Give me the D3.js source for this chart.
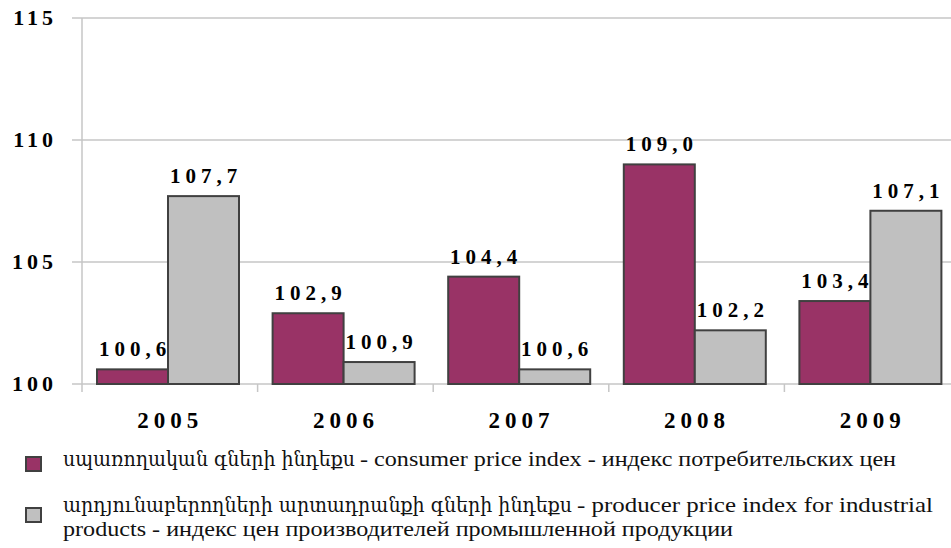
<!DOCTYPE html>
<html><head><meta charset="utf-8">
<script src="https://cdn.jsdelivr.net/npm/d3@7"></script>
<style>body{margin:0;background:#fff}svg{display:block}</style>
</head><body>
<script>
const years = ["2005","2006","2007","2008","2009"];
const cpi = [100.6, 102.9, 104.4, 109.0, 103.4];
const ppi = [107.7, 100.9, 100.6, 102.2, 107.1];
const yTicks = [100, 105, 110, 115];
const legendArm = ["սպառողական գների ինդեքս", "արդյունաբերողների արտադրանքի գների ինդեքս"];
const legendRest = ["- consumer price index - индекс потребительских цен",
                    "- producer price index for industrial"];
const legendLine3 = "products - индекс цен производителей промышленной продукции";
const colors = ["#993366", "#c0c0c0"];

const W = 951, H = 548;
const SERIF = '"Liberation Serif"';
const ARM = '"DejaVu Serif"';
const svg = d3.select("body").append("svg").attr("width", W).attr("height", H);
const x0 = d3.scaleBand().domain(years).range([82, 960]);
const y = d3.scaleLinear().domain([100, 115]).range([384, 18]);
const grpW = 142;
const x1 = d3.scaleBand().domain([0,1]).range([0, grpW]);
const off = 15;
const grid = "#c6c6c6";

svg.append("g").selectAll("line").data(yTicks).join("line")
  .attr("x1", 72).attr("x2", 960)
  .attr("y1", d => y(d)).attr("y2", d => y(d))
  .attr("stroke", grid).attr("stroke-width", 1.5);
svg.append("line").attr("x1", 82).attr("x2", 82).attr("y1", y(115)).attr("y2", 392)
  .attr("stroke", grid).attr("stroke-width", 1.5);
svg.append("g").selectAll("line").data(years.slice(1)).join("line")
  .attr("x1", d => x0(d)).attr("x2", d => x0(d)).attr("y1", 384).attr("y2", 392)
  .attr("stroke", grid).attr("stroke-width", 1.5);

svg.append("g").selectAll("text").data(yTicks).join("text")
  .style("font-family", SERIF).attr("font-weight", "bold")
  .attr("x", 57).attr("y", d => y(d) + 7)
  .attr("text-anchor", "end")
  .attr("font-size", 22)
  .attr("letter-spacing", 4)
  .text(d => d);

svg.append("g").selectAll("text").data(years).join("text")
  .style("font-family", SERIF).attr("font-weight", "bold")
  .attr("x", d => x0(d) + x0.bandwidth()/2 + 0.5).attr("y", 428)
  .attr("text-anchor", "middle")
  .attr("font-size", 23)
  .attr("letter-spacing", 5)
  .text(d => d);

const data = [];
years.forEach((yr, i) => {
  data.push({yr, s:0, v:cpi[i]});
  data.push({yr, s:1, v:ppi[i]});
});
svg.append("g").selectAll("rect").data(data).join("rect")
  .attr("x", d => x0(d.yr) + off + x1(d.s))
  .attr("y", d => y(d.v))
  .attr("width", x1.bandwidth())
  .attr("height", d => y(100) - y(d.v))
  .attr("fill", d => colors[d.s])
  .attr("stroke", "#404040").attr("stroke-width", 2);

svg.append("g").selectAll("text").data(data).join("text")
  .style("font-family", SERIF).attr("font-weight", "bold")
  .attr("x", d => x0(d.yr) + off + x1(d.s) + x1.bandwidth()/2 + 2.5)
  .attr("y", d => y(d.v) - 13)
  .attr("text-anchor", "middle")
  .attr("font-size", 21)
  .attr("letter-spacing", 5)
  .text(d => d3.format(".1f")(d.v).replace(".", ","));

const lg = svg.append("g");
const sqY = [457, 508];
const baseY = [466, 512];
const armEnd = [355, 572];
const restStart = [360, 577];
const restEnd = [896, 933];
colors.forEach((c, i) => {
  lg.append("rect").attr("x", 26).attr("y", sqY[i]).attr("width", 15).attr("height", 14)
    .attr("fill", c).attr("stroke", "#404040").attr("stroke-width", 2);
  lg.append("text").style("font-family", ARM).attr("x", 63).attr("y", baseY[i])
    .attr("font-size", 20).attr("fill", "#111")
    .attr("textLength", armEnd[i] - 63).attr("lengthAdjust", "spacingAndGlyphs")
    .text(legendArm[i]);
  lg.append("text").style("font-family", SERIF).attr("x", restStart[i]).attr("y", baseY[i])
    .attr("font-size", 22).attr("fill", "#111")
    .attr("textLength", restEnd[i] - restStart[i]).attr("lengthAdjust", "spacingAndGlyphs")
    .text(legendRest[i]);
});
lg.append("text").style("font-family", SERIF).attr("x", 63).attr("y", 536)
  .attr("font-size", 22).attr("fill", "#111")
  .attr("textLength", 733 - 63).attr("lengthAdjust", "spacingAndGlyphs")
  .text(legendLine3);
</script>
</body></html>
